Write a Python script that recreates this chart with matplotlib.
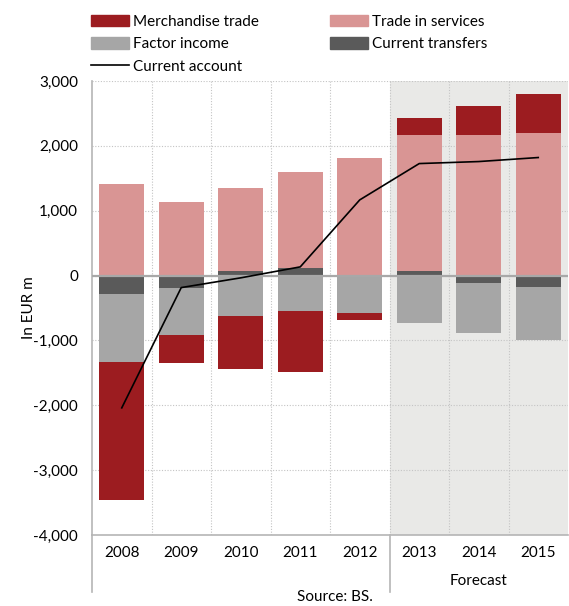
import matplotlib.pyplot as plt
import matplotlib.transforms as mtransforms
from matplotlib.patches import Patch
from matplotlib.lines import Line2D
import numpy as np

plt.rcParams['font.family'] = ['Lato', 'DejaVu Sans']
plt.rcParams['font.size'] = 11

years = ['2008', '2009', '2010', '2011', '2012', '2013', '2014', '2015']
merchandise = [-2120, -435, -828, -940, -113, 270, 456, 595]
services = [1415, 1136, 1269, 1474, 1809, 2088, 2160, 2205]
factor_income = [-1050, -720, -617, -550, -570, -730, -782, -825]
transfers = [-290, -195, 77, 119, 0, 72, -108, -175]
current_account = [-2040, -185, -35, 134, 1167, 1727, 1758, 1820]

c_merch = '#9c1c20'
c_serv = '#d99594'
c_factor = '#a6a6a6'
c_transf = '#5a5a5a'

fig = plt.figure(figsize=(5.69, 6.06), dpi=100)
ax = fig.add_axes([92 / 569, 1 - 535 / 606, 476 / 569, 454 / 606])

x = np.arange(len(years))
width = 0.76

# stack positives upward and negatives downward from zero
pos = np.zeros(len(years))
neg = np.zeros(len(years))
for vals, col in [(transfers, c_transf), (factor_income, c_factor),
                  (services, c_serv), (merchandise, c_merch)]:
    v = np.array(vals, dtype=float)
    bottoms = np.where(v >= 0, pos, neg)
    ax.bar(x, v, width, bottom=bottoms, color=col, zorder=3)
    pos += np.where(v > 0, v, 0)
    neg += np.where(v < 0, v, 0)

ax.plot(x, current_account, color='black', lw=1.2, zorder=5)

# forecast shading
ax.axvspan(4.5, 7.5, color='#e9e9e7', zorder=0, lw=0)
ax.axhline(0, color='#a8a8a8', lw=1.6, zorder=4)

ax.set_xlim(-0.5, 7.5)
ax.set_ylim(-4000, 3000)
ax.set_yticks(range(-4000, 3001, 1000))
ax.set_yticklabels([f'{v:,}' for v in range(-4000, 3001, 1000)])
ax.set_xticks(x)
ax.set_xticklabels(years)
ax.tick_params(length=0, pad=8)
ax.tick_params(axis='y', pad=10)

for yv in range(-3000, 3001, 1000):
    ax.axhline(yv, color='#c4c4c4', lw=0.8, ls=(0, (1, 1.5)), zorder=1)
for xv in np.arange(0.5, 7, 1):
    ax.axvline(xv, color='#c4c4c4', lw=0.8, ls=(0, (1, 1.5)), zorder=1)

for s in ['top', 'right']:
    ax.spines[s].set_visible(False)
for s in ['left', 'bottom']:
    ax.spines[s].set_color('#b5b5b5')
    ax.spines[s].set_linewidth(1.2)

ax.set_ylabel('In EUR m', labelpad=-2)

# separators below the category axis
trans = mtransforms.blended_transform_factory(ax.transData, ax.transAxes)
for xv in [-0.5, 4.5]:
    ax.plot([xv, xv], [0, -0.125], color='#b5b5b5', lw=1.2,
            transform=trans, clip_on=False)
ax.text(6.0, -0.101, 'Forecast', transform=trans, ha='center', va='center')
fig.text(335 / 569, 1 - 597 / 606, 'Source: BS.', ha='center', va='center')

leg_kw = dict(frameon=False, borderpad=0, handlelength=2.5, handleheight=0.8,
              handletextpad=0.3, labelspacing=0.55, fontsize=11)
fig.legend(handles=[Patch(color=c_merch), Patch(color=c_factor),
                    Line2D([], [], color='black', lw=1.2)],
           labels=['Merchandise trade', 'Factor income', 'Current account'],
           loc='upper left', bbox_to_anchor=(83 / 569, 1 - 7 / 606), **leg_kw)
fig.legend(handles=[Patch(color=c_serv), Patch(color=c_transf)],
           labels=['Trade in services', 'Current transfers'],
           loc='upper left', bbox_to_anchor=(322 / 569, 1 - 7 / 606), **leg_kw)

fig.savefig('out.png', dpi=100)
